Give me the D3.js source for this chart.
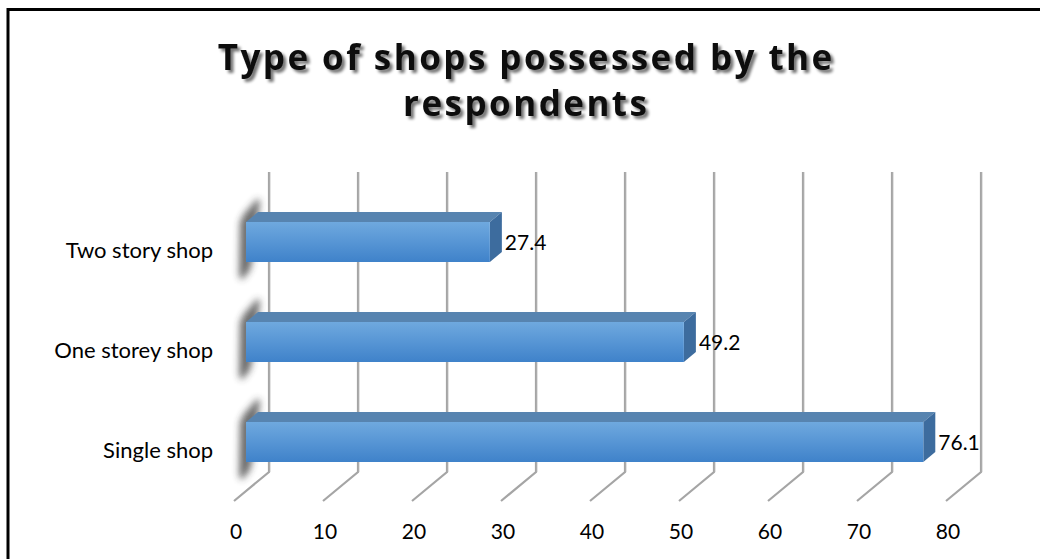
<!DOCTYPE html>
<html><head><meta charset="utf-8">
<script src="https://cdn.jsdelivr.net/npm/d3@7"></script>
<style>html,body{margin:0;padding:0;background:#fff;overflow:hidden}</style>
</head><body>
<svg id="c" width="1040" height="559"></svg>
<script>
const categories = ["Single shop", "One storey shop", "Two story shop"];
const values = [76.1, 49.2, 27.4];
const ticks = [0, 10, 20, 30, 40, 50, 60, 70, 80];
const titleLines = ["Type of shops possessed by the", "respondents"];

const svg = d3.select("#c");
const defs = svg.append("defs");
const FONT = "Lato, 'Open Sans', sans-serif";

const ts = defs.append("filter").attr("id","tshadow").attr("x","-5%").attr("y","-20%").attr("width","110%").attr("height","160%");
ts.append("feGaussianBlur").attr("in","SourceAlpha").attr("stdDeviation",1.6).attr("result","b");
ts.append("feOffset").attr("in","b").attr("dx",2.5).attr("dy",2.5).attr("result","o");
ts.append("feComponentTransfer").attr("in","o").attr("result","o2").append("feFuncA").attr("type","linear").attr("slope",0.55);
const m = ts.append("feMerge"); m.append("feMergeNode").attr("in","o2"); m.append("feMergeNode").attr("in","SourceGraphic");

const bs = defs.append("filter").attr("id","bshadow").attr("x","-200%").attr("y","-50%").attr("width","500%").attr("height","200%");
bs.append("feGaussianBlur").attr("stdDeviation",3.5);

const fg = defs.append("linearGradient").attr("id","front").attr("x1",0).attr("y1",0).attr("x2",0).attr("y2",1);
fg.append("stop").attr("offset","0%").attr("stop-color","#6fa9df");
fg.append("stop").attr("offset","100%").attr("stop-color","#3f82ca");

// border
svg.append("rect").attr("x",8).attr("y",9.5).attr("width",1100).attr("height",600)
  .attr("fill","none").attr("stroke","#000").attr("stroke-width",3);

// title
const titles = svg.selectAll("text.title").data(titleLines).enter().append("text")
  .attr("class","title")
  .attr("x",525).attr("y",(d,i)=>70+i*46)
  .attr("text-anchor","middle")
  .attr("font-family","'Open Sans', Lato, sans-serif").attr("font-weight","bold")
  .attr("font-size",35)
  .attr("fill","#111")
  .attr("filter","url(#tshadow)")
  .text(d=>d);
const l0 = titles.nodes()[0].getComputedTextLength();
const ls = Math.max(0, (617 - l0) / (titleLines[0].length));
titles.attr("letter-spacing", ls).attr("dx", ls/2);

// scales
const xBack = d3.scaleLinear().domain([0,80]).range([269, 981]);
const xFront = d3.scaleLinear().domain([0,80]).range([246, 958]);
const y = d3.scaleBand().domain(categories.slice().reverse()).range([192,492]).paddingInner(0.6).paddingOuter(0.3);
const dx = 12, dy = -10;
const gridTop = 172, gridBot = 472, diagX = -35, diagY = 29;

// gridlines
const g = svg.append("g");
g.selectAll("path.grid").data(ticks).enter().append("path")
  .attr("d",t=>`M${xBack(t)},${gridTop}L${xBack(t)},${gridBot}L${xBack(t)+diagX},${gridBot+diagY}`)
  .attr("fill","none").attr("stroke","#a5a5a5").attr("stroke-width",2.2);
g.selectAll("path.gridh").data(ticks).enter().append("path")
  .attr("d",t=>`M${xBack(t)+1.3},${gridTop}L${xBack(t)+1.3},${gridBot}`)
  .attr("fill","none").attr("stroke","#d8d8d8").attr("stroke-width",0.8);

// tick labels
svg.selectAll("text.tick").data(ticks).enter().append("text")
  .attr("x",t=>xBack(t)+diagX+2).attr("y",539)
  .attr("text-anchor","middle")
  .attr("font-family",FONT).attr("font-size",21)
  .attr("fill","#000").text(t=>t);

const data = categories.map((c,i)=>({c, v: values[i]}));

// shadows on left wall
svg.selectAll("path.sh").data(data).enter().append("path")
  .attr("d",d=>{const x0=xFront(0), t=y(d.c), b=t+y.bandwidth();
    return `M${x0-2},${t-8}L${x0+12},${t-24}L${x0+14},${t-20}L${x0+6},${b}L${x0+4},${b+8}L${x0-4},${b+18}L${x0-7},${b+14}L${x0-6},${t}Z`;})
  .attr("fill","#333").attr("opacity",0.7).attr("filter","url(#bshadow)");

// bars
const bars = svg.selectAll("g.bar").data(data).enter().append("g");
bars.append("path").attr("d",d=>{const x0=xFront(0), x1=xFront(d.v), t=y(d.c);
  return `M${x0},${t}L${x0+dx},${t+dy}L${x1+dx},${t+dy}L${x1},${t}Z`;}).attr("fill","#5784b0");
bars.append("path").attr("d",d=>{const x1=xFront(d.v), t=y(d.c), b=t+y.bandwidth();
  return `M${x1},${t}L${x1+dx},${t+dy}L${x1+dx},${b+dy}L${x1},${b}Z`;}).attr("fill","#3d6c9e");
bars.append("rect").attr("x",xFront(0)).attr("y",d=>y(d.c))
  .attr("width",d=>xFront(d.v)-xFront(0)).attr("height",y.bandwidth()).attr("fill","url(#front)");

// data labels
svg.selectAll("text.dl").data(data).enter().append("text")
  .attr("x",d=>xFront(d.v)+dx+3).attr("y",d=>y(d.c)+y.bandwidth()/2+8)
  .attr("font-family",FONT).attr("font-size",21)
  .text(d=>d.v.toFixed(1));

// category labels
svg.selectAll("text.cat").data(data).enter().append("text")
  .attr("x",213).attr("y",d=>y(d.c)+y.bandwidth()/2+16)
  .attr("text-anchor","end")
  .attr("font-family",FONT).attr("font-size",22)
  .text(d=>d.c);
</script>
</body></html>
